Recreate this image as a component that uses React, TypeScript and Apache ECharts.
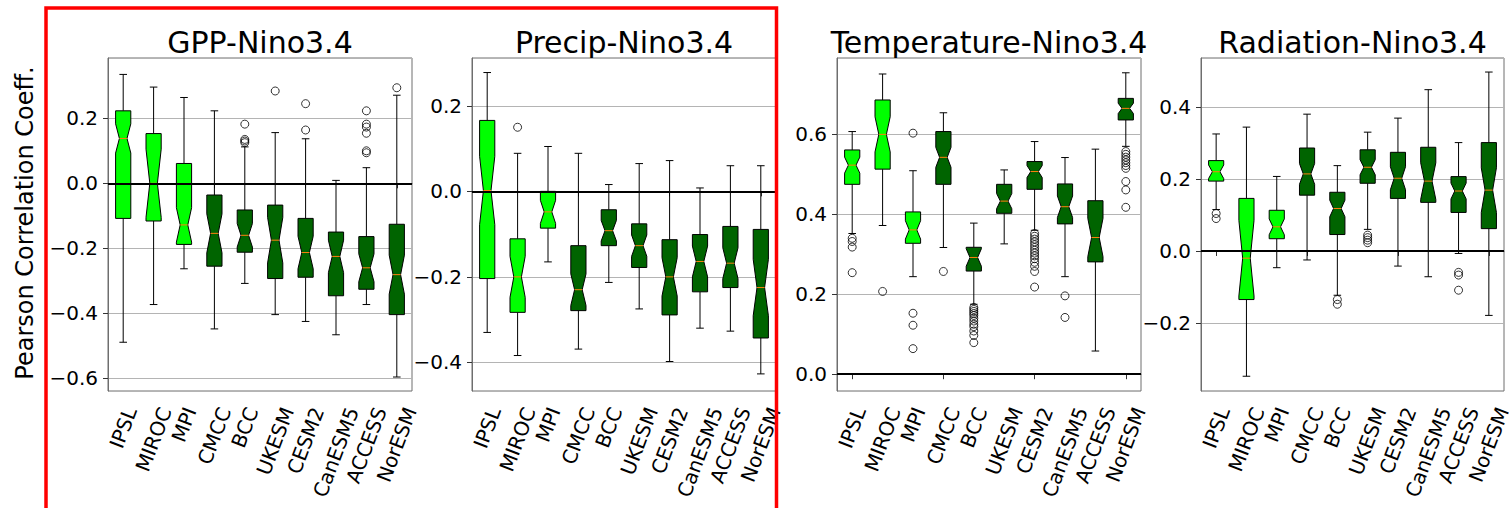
import React, { useEffect, useRef } from 'react';
import * as echarts from 'echarts';

// ---------------- data ----------------
const categories = ['IPSL', 'MIROC', 'MPI', 'CMCC', 'BCC', 'UKESM', 'CESM2', 'CanESM5', 'ACCESS', 'NorESM'];
const lightModels = ['IPSL', 'MIROC', 'MPI'];
const yAxisTitle = 'Pearson Correlation Coeff.';

// GPP-Nino3.4
const gppTitle = 'GPP-Nino3.4';
const gppWhiskerLow = [-0.489, -0.373, -0.263, -0.448, -0.308, -0.404, -0.425, -0.466, -0.373, -0.596];
const gppQ1 = [-0.108, -0.116, -0.188, -0.255, -0.212, -0.293, -0.289, -0.346, -0.326, -0.404];
const gppMedian = [0.138, 0.0, -0.128, -0.154, -0.16, -0.175, -0.213, -0.225, -0.26, -0.281];
const gppQ3 = [0.223, 0.153, 0.061, -0.036, -0.082, -0.067, -0.108, -0.15, -0.164, -0.126];
const gppWhiskerHigh = [0.335, 0.296, 0.264, 0.223, 0.112, 0.156, 0.137, 0.009, 0.048, 0.271];
const gppNotch = [0.045, 0.105, 0.053, 0.06, 0.036, 0.07, 0.05, 0.05, 0.043, 0.06];
const gppOutliers = [
  ['BCC', 0.182], ['BCC', 0.135], ['BCC', 0.13], ['BCC', 0.125],
  ['UKESM', 0.284],
  ['CESM2', 0.245], ['CESM2', 0.164],
  ['ACCESS', 0.223], ['ACCESS', 0.182], ['ACCESS', 0.173], ['ACCESS', 0.154], ['ACCESS', 0.1], ['ACCESS', 0.094],
  ['NorESM', 0.294],
];

// Precip-Nino3.4
const preTitle = 'Precip-Nino3.4';
const preWhiskerLow = [-0.33, -0.384, -0.165, -0.369, -0.213, -0.275, -0.398, -0.32, -0.327, -0.427];
const preQ1 = [-0.204, -0.283, -0.086, -0.279, -0.127, -0.178, -0.289, -0.235, -0.225, -0.343];
const preMedian = [0.002, -0.2, -0.048, -0.23, -0.092, -0.127, -0.2, -0.164, -0.168, -0.225];
const preQ3 = [0.166, -0.111, 0.0, -0.127, -0.043, -0.076, -0.113, -0.101, -0.082, -0.089];
const preWhiskerHigh = [0.278, 0.089, 0.105, 0.089, 0.016, 0.065, 0.072, 0.008, 0.06, 0.06];
const preNotch = [0.08, 0.048, 0.027, 0.037, 0.024, 0.025, 0.045, 0.036, 0.036, 0.066];
const preOutliers = [['MIROC', 0.15]];

// Temperature-Nino3.4
const tmpTitle = 'Temperature-Nino3.4';
const tmpWhiskerLow = [0.352, 0.372, 0.244, 0.317, 0.175, 0.326, 0.36, 0.244, 0.058, 0.57];
const tmpQ1 = [0.475, 0.513, 0.3275, 0.475, 0.258, 0.4025, 0.4625, 0.376, 0.281, 0.636];
const tmpMedian = [0.523, 0.6, 0.361, 0.5425, 0.292, 0.433, 0.507, 0.419, 0.342, 0.665];
const tmpQ3 = [0.561, 0.686, 0.406, 0.607, 0.3175, 0.475, 0.532, 0.476, 0.434, 0.69];
const tmpWhiskerHigh = [0.607, 0.751, 0.509, 0.654, 0.378, 0.511, 0.582, 0.542, 0.563, 0.754];
const tmpNotch = [0.02, 0.044, 0.023, 0.025, 0.022, 0.019, 0.015, 0.027, 0.048, 0.013];
const tmpOutliers = [
  ['IPSL', 0.34], ['IPSL', 0.332], ['IPSL', 0.318], ['IPSL', 0.254],
  ['MIROC', 0.207],
  ['MPI', 0.603], ['MPI', 0.1525], ['MPI', 0.1225], ['MPI', 0.064],
  ['CMCC', 0.257],
  ['BCC', 0.167], ['BCC', 0.162], ['BCC', 0.157], ['BCC', 0.152], ['BCC', 0.147], ['BCC', 0.14],
  ['BCC', 0.133], ['BCC', 0.125], ['BCC', 0.119], ['BCC', 0.108], ['BCC', 0.097], ['BCC', 0.079],
  ['CESM2', 0.352], ['CESM2', 0.345], ['CESM2', 0.338], ['CESM2', 0.331], ['CESM2', 0.324], ['CESM2', 0.317],
  ['CESM2', 0.31], ['CESM2', 0.303], ['CESM2', 0.296], ['CESM2', 0.289], ['CESM2', 0.28], ['CESM2', 0.27],
  ['CESM2', 0.257], ['CESM2', 0.218],
  ['CanESM5', 0.196], ['CanESM5', 0.142],
  ['NorESM', 0.557], ['NorESM', 0.55], ['NorESM', 0.543], ['NorESM', 0.536], ['NorESM', 0.529],
  ['NorESM', 0.522], ['NorESM', 0.515], ['NorESM', 0.482], ['NorESM', 0.461], ['NorESM', 0.4175],
];

// Radiation-Nino3.4
const radTitle = 'Radiation-Nino3.4';
const radWhiskerLow = [0.115, -0.348, -0.0465, -0.025, -0.123, 0.06, -0.042, -0.0716, -0.007, -0.179];
const radQ1 = [0.194, -0.135, 0.034, 0.155, 0.0456, 0.188, 0.146, 0.135, 0.107, 0.062];
const radMedian = [0.22, -0.02, 0.067, 0.214, 0.118, 0.2325, 0.202, 0.194, 0.1665, 0.169];
const radQ3 = [0.251, 0.146, 0.113, 0.286, 0.163, 0.281, 0.274, 0.288, 0.2065, 0.301];
const radWhiskerHigh = [0.325, 0.344, 0.207, 0.38, 0.237, 0.33, 0.369, 0.448, 0.301, 0.497];
const radNotch = [0.019, 0.105, 0.022, 0.029, 0.023, 0.021, 0.032, 0.051, 0.022, 0.062];
const radOutliers = [
  ['IPSL', 0.104], ['IPSL', 0.09],
  ['BCC', -0.135], ['BCC', -0.148],
  ['UKESM', 0.044], ['UKESM', 0.037], ['UKESM', 0.03], ['UKESM', 0.023],
  ['ACCESS', -0.0595], ['ACCESS', -0.067], ['ACCESS', -0.109],
];

// ---------------- styles / layout ----------------
const FONT = 'DejaVu Sans';
const LIGHT = '#00ff00';
const DARK = '#006400';
const MEDIAN = '#ff7f0e';
const FRAME = '#6e6e6e';
const GRIDLINE = '#b4b4b4';
const LABEL_ANGLE = 69;
const LABEL_FS = 20;

const panels = [
  { title: gppTitle, wl: gppWhiskerLow, q1: gppQ1, md: gppMedian, q3: gppQ3, wh: gppWhiskerHigh, nt: gppNotch, out: gppOutliers,
    left: 108, width: 304, min: -0.639, max: 0.3855 },
  { title: preTitle, wl: preWhiskerLow, q1: preQ1, md: preMedian, q3: preQ3, wh: preWhiskerHigh, nt: preNotch, out: preOutliers,
    left: 472, width: 304, min: -0.467, max: 0.312 },
  { title: tmpTitle, wl: tmpWhiskerLow, q1: tmpQ1, md: tmpMedian, q3: tmpQ3, wh: tmpWhiskerHigh, nt: tmpNotch, out: tmpOutliers,
    left: 837, width: 304, min: -0.042, max: 0.791 },
  { title: radTitle, wl: radWhiskerLow, q1: radQ1, md: radMedian, q3: radQ3, wh: radWhiskerHigh, nt: radNotch, out: radOutliers,
    left: 1201, width: 303, min: -0.389, max: 0.536 },
];
const GRID_TOP = 58;
const GRID_H = 333;

function fmt(v: number) {
  const r = Math.round(v * 10) / 10;
  if (Math.abs(r) < 1e-9) return '0.0';
  return (r < 0 ? '\u2212' : '') + Math.abs(r).toFixed(1);
}

let ctx: CanvasRenderingContext2D | null = null;
function textWidth(t: string, size: number) {
  if (!ctx) ctx = document.createElement('canvas').getContext('2d');
  if (!ctx) return t.length * size * 0.6;
  ctx.font = `${size}px "${FONT}"`;
  return ctx.measureText(t).width;
}

function boxRender(params: any, api: any) {
  const i = api.value(0);
  const cx = api.coord([i, 0])[0];
  const bw = api.size([1, 0])[0] * 0.5;
  const y = (k: number) => api.coord([i, api.value(k)])[1];
  const yWl = y(1), yQ1 = y(2), yNl = y(3), yMd = y(4), yNh = y(5), yQ3 = y(6), yWh = y(7);
  const l = cx - bw / 2, r = cx + bw / 2, cl = cx - bw / 4, cr = cx + bw / 4;
  const fill = lightModels.includes(categories[i]) ? LIGHT : DARK;
  const ls = { stroke: '#000', lineWidth: 1 };
  return {
    type: 'group',
    children: [
      { type: 'line', shape: { x1: cx, y1: yQ1, x2: cx, y2: yWl }, style: ls },
      { type: 'line', shape: { x1: cx, y1: yQ3, x2: cx, y2: yWh }, style: ls },
      { type: 'line', shape: { x1: cl, y1: yWl, x2: cr, y2: yWl }, style: ls },
      { type: 'line', shape: { x1: cl, y1: yWh, x2: cr, y2: yWh }, style: ls },
      {
        type: 'polygon',
        shape: {
          points: [[l, yQ1], [r, yQ1], [r, yNl], [cr, yMd], [r, yNh], [r, yQ3], [l, yQ3], [l, yNh], [cl, yMd], [l, yNl]],
        },
        style: { fill, stroke: '#000', lineWidth: 1 },
      },
      { type: 'line', shape: { x1: cl, y1: yMd, x2: cr, y2: yMd }, style: { stroke: MEDIAN, lineWidth: 1 } },
    ],
  };
}

function labelRender(params: any, api: any) {
  const i = api.value(0);
  const p = api.coord([i, api.value(1)]);
  const text = categories[i];
  const th = (LABEL_ANGLE * Math.PI) / 180;
  const L = textWidth(text, LABEL_FS);
  const h = LABEL_FS * 0.9;
  const H = L * Math.sin(th) + h * Math.cos(th);
  return {
    type: 'text',
    x: p[0],
    y: p[1] + 14 + H / 2,
    rotation: th,
    style: { text, fill: '#000', fontSize: LABEL_FS, fontFamily: FONT, align: 'center', verticalAlign: 'middle' },
  };
}

export default function App() {
  const ref = useRef<HTMLDivElement>(null);
  useEffect(() => {
    if (!ref.current) return;
    const chart = echarts.init(ref.current, null, { renderer: 'svg' });
    const grid: any[] = [], xAxis: any[] = [], yAxis: any[] = [], series: any[] = [], graphic: any[] = [];
    panels.forEach((p, k) => {
      grid.push({ left: p.left, top: GRID_TOP, width: p.width, height: GRID_H, show: true, borderColor: FRAME, borderWidth: 1, backgroundColor: 'transparent' });
      xAxis.push({
        type: 'category', gridIndex: k, data: categories, boundaryGap: true,
        axisLine: { show: true, lineStyle: { color: FRAME, width: 1 } },
        axisTick: { show: true, alignWithLabel: true, length: 5, lineStyle: { color: '#333' } },
        axisLabel: { show: false }, splitLine: { show: false },
      });
      yAxis.push({
        type: 'value', gridIndex: k, min: p.min, max: p.max, splitNumber: 5,
        axisLine: { show: true, lineStyle: { color: FRAME, width: 1 } },
        axisTick: { show: true, length: 5, lineStyle: { color: '#333' } },
        axisLabel: { show: true, formatter: fmt, fontSize: 20, fontFamily: FONT, color: '#000', margin: 10, showMinLabel: false, showMaxLabel: false },
        splitLine: { show: true, lineStyle: { color: GRIDLINE, width: 1 } },
      });
      series.push({
        type: 'custom', xAxisIndex: k, yAxisIndex: k, z: 2, silent: true,
        renderItem: boxRender,
        encode: { x: 0, y: [1, 2, 3, 4, 5, 6, 7] },
        data: categories.map((c, i) => [i, p.wl[i], p.q1[i], p.md[i] - p.nt[i], p.md[i], p.md[i] + p.nt[i], p.q3[i], p.wh[i]]),
      });
      series.push({
        type: 'scatter', xAxisIndex: k, yAxisIndex: k, z: 4, silent: true,
        symbol: 'circle', symbolSize: 8,
        itemStyle: { color: 'rgba(0,0,0,0)', borderColor: '#000', borderWidth: 1 },
        data: p.out,
        markLine: {
          silent: true, symbol: ['none', 'none'], label: { show: false },
          lineStyle: { color: '#000', width: 1.8, type: 'solid' },
          data: [{ yAxis: 0 }],
        },
      });
      series.push({
        type: 'custom', xAxisIndex: k, yAxisIndex: k, z: 1, silent: true, clip: false,
        renderItem: labelRender,
        encode: { x: 0, y: 1 },
        data: categories.map((c, i) => [i, p.min]),
      });
      graphic.push({
        type: 'text', x: p.left + p.width / 2, y: 42, silent: true,
        style: { text: p.title, fill: '#000', fontSize: 30, fontFamily: FONT, align: 'center', verticalAlign: 'middle' },
      });
    });
    graphic.push({
      type: 'text', x: 25, y: 223, rotation: Math.PI / 2, silent: true,
      style: { text: yAxisTitle, fill: '#000', fontSize: 24, fontFamily: FONT, align: 'center', verticalAlign: 'middle' },
    });
    graphic.push({
      type: 'rect', silent: true, z: 100,
      shape: { x: 46, y: 8, width: 730.5, height: 560 },
      style: { fill: 'none', stroke: '#ff0000', lineWidth: 3.5 },
    });
    chart.setOption({
      animation: false,
      backgroundColor: '#fff',
      grid, xAxis, yAxis, series, graphic,
    });
    return () => chart.dispose();
  }, []);
  return <div ref={ref} style={{ position: 'fixed', left: 0, top: 0, width: 1509, height: 508 }} />;
}
